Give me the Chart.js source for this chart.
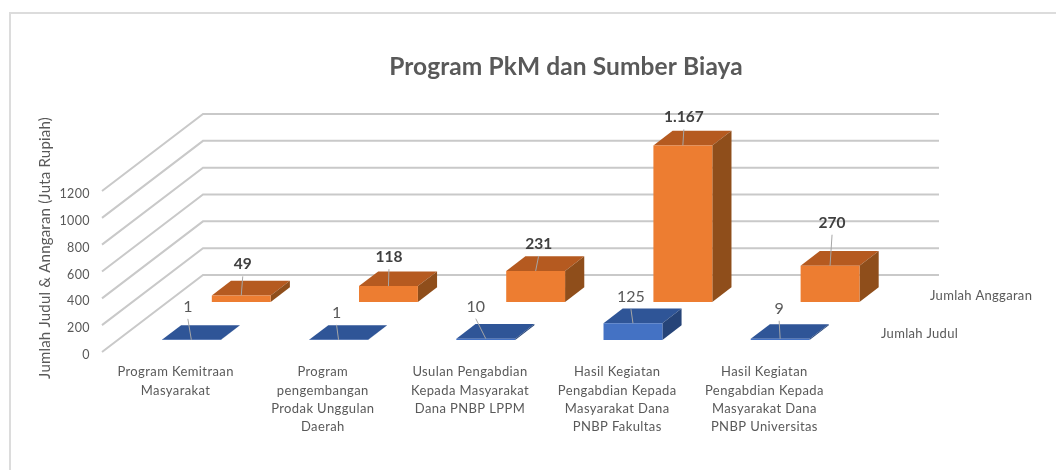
<!DOCTYPE html>
<html>
<head>
<meta charset="utf-8">
<title>Program PkM dan Sumber Biaya</title>
<script src="https://cdn.jsdelivr.net/npm/chart.js@4"></script>
<style>
html,body{margin:0;padding:0;background:#fff;}
#wrap{position:relative;width:1056px;height:470px;overflow:hidden;}
#frame{position:absolute;left:9px;top:12px;width:1060px;height:480px;border-top:2px solid #dcdcdc;border-left:2px solid #dcdcdc;}
canvas{position:absolute;left:0;top:0;filter:blur(0.4px);}
</style>
</head>
<body>
<div id="wrap">
<div id="frame"></div>
<canvas id="pkm_chart" width="1056" height="470"></canvas>
</div>
<script>
const categories = [
    ['Program Kemitraan','Masyarakat'],
    ['Program','pengembangan','Prodak Unggulan','Daerah'],
    ['Usulan Pengabdian','Kepada Masyarakat','Dana PNBP LPPM'],
    ['Hasil Kegiatan','Pengabdian Kepada','Masyarakat Dana','PNBP Fakultas'],
    ['Hasil Kegiatan','Pengabdian Kepada','Masyarakat Dana','PNBP Universitas']
];
const seriesNames = ['Jumlah Judul','Jumlah Anggaran'];
const jumlahJudul = [1,1,10,125,9];
const jumlahAnggaran = [49,118,231,1167,270];
const yTickStep = 200;
const yMax = 1200;
const chartTitle = 'Program PkM dan Sumber Biaya';
const yTitle = 'Jumlah Judul & Anngaran (Juta Rupiah)';

// fake 3d: how far the floor goes back, and where each row sits on it
const wall = {x:101,y:-77};
const rowPos = [0.156,0.65];
const barDepth = 0.19;
const faces = [
    {top:'#2f5597',side:'#264478'},
    {top:'#b55a20',side:'#8f4e1b'}
];
// data label centre relative to top centre of the bar front
const labelOffsets = [
    [[-3.5,-33],[-2,-27],[-10,-32],[-2,-26],[-1,-30]],
    [[1.5,-31],[0.5,-29],[3,-27],[1,-28],[2,-43]]
];
const rowNamePos = [{x:881,y:334},{x:930,y:296}];

const textColor = '#595959';
const gridColor = '#c9c9c9';
const font = 'Lato';

const box3d = {
    id:'box3d',
    beforeDraw(chart){
        // tick labels in the picture are set a bit loose
        chart.ctx.letterSpacing = '0.4px';
    },
    beforeDatasetsDraw(chart){
        const ctx = chart.ctx, y = chart.scales.y, a = chart.chartArea;
        ctx.save();
        ctx.strokeStyle = gridColor;
        ctx.lineWidth = 2;
        y.ticks.forEach(t=>{
            const py = y.getPixelForValue(t.value);
            ctx.beginPath();
            ctx.moveTo(a.left,py);
            ctx.lineTo(a.left+wall.x,py+wall.y);
            ctx.lineTo(a.right+wall.x,py+wall.y);
            ctx.stroke();
        });
        ctx.restore();
    },
    beforeDatasetDraw(chart,args){
        const ctx = chart.ctx, i = args.index;
        const dx = wall.x*barDepth, dy = wall.y*barDepth;
        ctx.save();
        ctx.translate(wall.x*rowPos[i],wall.y*rowPos[i]);
        chart.getDatasetMeta(i).data.forEach(bar=>{
            const l = bar.x-bar.width/2, r = bar.x+bar.width/2;
            ctx.fillStyle = faces[i].top;
            ctx.beginPath();
            ctx.moveTo(l,bar.y);
            ctx.lineTo(l+dx,bar.y+dy);
            ctx.lineTo(r+dx,bar.y+dy);
            ctx.lineTo(r,bar.y);
            ctx.closePath();
            ctx.fill();
            ctx.fillStyle = faces[i].side;
            ctx.beginPath();
            ctx.moveTo(r,bar.y);
            ctx.lineTo(r+dx,bar.y+dy);
            ctx.lineTo(r+dx,bar.base+dy);
            ctx.lineTo(r,bar.base);
            ctx.closePath();
            ctx.fill();
        });
    },
    afterDatasetDraw(chart){
        chart.ctx.restore();
    },
    afterDatasetsDraw(chart){
        const ctx = chart.ctx;
        ctx.save();
        ctx.textAlign = 'center';
        ctx.textBaseline = 'middle';
        ctx.letterSpacing = '0px';
        chart.data.datasets.forEach((ds,i)=>{
            chart.getDatasetMeta(i).data.forEach((bar,n)=>{
                const bx = bar.x+wall.x*rowPos[i], by = bar.y+wall.y*rowPos[i];
                const lx = bx+labelOffsets[i][n][0], ly = by+labelOffsets[i][n][1];
                ctx.strokeStyle = '#a6a6a6';
                ctx.lineWidth = 1;
                ctx.beginPath();
                ctx.moveTo(lx,ly+12);
                ctx.lineTo(bx,by);
                ctx.stroke();
                ctx.fillStyle = i===1 ? '#404040' : textColor;
                ctx.font = i===1 ? `bold 15.5px ${font}` : `16px ${font}`;
                ctx.fillText(ds.data[n].toLocaleString('id-ID'),lx,ly);
            });
        });
        // series names on the depth axis
        ctx.textAlign = 'left';
        ctx.fillStyle = textColor;
        ctx.letterSpacing = '0.3px';
        ctx.font = `13px ${font}`;
        seriesNames.forEach((s,i)=>ctx.fillText(s,rowNamePos[i].x,rowNamePos[i].y));
        ctx.textAlign = 'center';
        ctx.letterSpacing = '0.1px';
        ctx.font = `bold 24.5px ${font}`;
        ctx.fillText(chartTitle,566,67);
        ctx.translate(45,248);
        ctx.rotate(-Math.PI/2);
        ctx.letterSpacing = '0.2px';
        ctx.font = `15px ${font}`;
        ctx.fillText(yTitle,0,0);
        ctx.restore();
    }
};

new Chart(document.getElementById('pkm_chart'),{
    type:'bar',
    plugins:[box3d],
    data:{
        labels:categories,
        datasets:[{
            label:seriesNames[0],
            data:jumlahJudul,
            backgroundColor:'#4472c4'
        },{
            label:seriesNames[1],
            data:jumlahAnggaran,
            backgroundColor:'#ed7d31'
        }]
    },
    options:{
        responsive:false,
        animation:false,
        layout:{padding:{top:191,right:218,left:0,bottom:0}},
        datasets:{bar:{grouped:false,barPercentage:0.4,categoryPercentage:1,clip:false}},
        plugins:{
            legend:{display:false},
            title:{display:false},
            tooltip:{enabled:false}
        },
        scales:{
            x:{
                grid:{display:false},
                border:{display:false},
                afterFit(s){s.height = 118;},
                ticks:{
                    autoSkip:false,
                    maxRotation:0,
                    padding:3,
                    color:textColor,
                    font:{family:font,size:13,lineHeight:1.41}
                }
            },
            y:{
                min:0,
                max:yMax,
                grid:{display:false},
                border:{display:false},
                afterFit(s){s.width = 102;},
                ticks:{
                    stepSize:yTickStep,
                    padding:4,
                    labelOffset:3,
                    color:textColor,
                    font:{family:font,size:12.5},
                    callback:v=>v
                }
            }
        }
    }
});
</script>
</body>
</html>
